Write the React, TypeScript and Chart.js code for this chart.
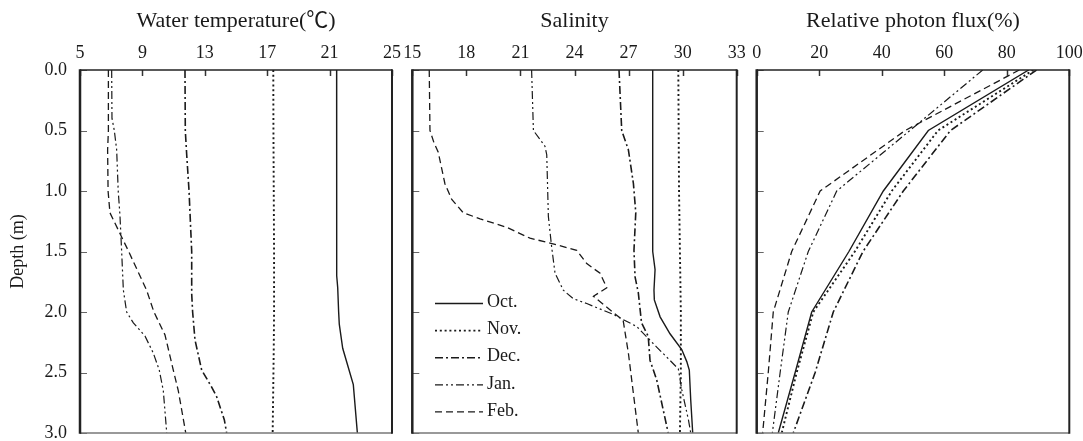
import React, { useEffect, useRef } from "react";
import { Chart, registerables } from "chart.js";

Chart.register(...registerables);

// ---------------- data ----------------
const MONTHS = ["Oct.", "Nov.", "Dec.", "Jan.", "Feb."];

const DEPTH_TICKS = [0, 0.5, 1.0, 1.5, 2.0, 2.5, 3.0];
const TEMP_TICKS = [5, 9, 13, 17, 21, 25];
const SAL_TICKS = [15, 18, 21, 24, 27, 30, 33];
const PHOTON_TICKS = [0, 20, 40, 60, 80, 100];

// Water temperature (°C)
const tempOctDepth = [0, 0.5, 1.0, 1.5, 1.7, 1.8, 2.0, 2.1, 2.3, 2.6, 3.0];
const tempOct = [21.45, 21.45, 21.45, 21.45, 21.47, 21.52, 21.58, 21.62, 21.84, 22.52, 22.78];
const tempNovDepth = [0, 0.5, 1.0, 1.5, 2.0, 2.3, 2.7, 3.0];
const tempNov = [17.39, 17.4, 17.42, 17.44, 17.44, 17.42, 17.38, 17.35];
const tempDecDepth = [0, 0.5, 0.7, 1.0, 1.5, 1.85, 2.0, 2.23, 2.48, 2.62, 2.7, 2.89, 3.0];
const tempDec = [11.73, 11.75, 11.84, 11.99, 12.16, 12.16, 12.22, 12.37, 12.8, 13.44, 13.76, 14.25, 14.4];
const tempJanDepth = [0, 0.4, 0.5, 0.66, 1.0, 1.2, 1.5, 1.82, 2.0, 2.09, 2.2, 2.34, 2.48, 2.65, 3.0];
const tempJan = [7.03, 7.05, 7.2, 7.35, 7.45, 7.56, 7.67, 7.78, 7.99, 8.42, 9.17, 9.7, 10.08, 10.34, 10.56];
const tempFebDepth = [0, 0.5, 0.66, 1.0, 1.18, 1.5, 1.82, 2.0, 2.19, 2.48, 2.65, 3.0];
const tempFeb = [6.82, 6.82, 6.77, 6.8, 6.92, 8.12, 9.27, 9.74, 10.45, 10.98, 11.3, 11.78];

// Salinity
const salOctDepth = [0, 1.5, 1.65, 1.82, 1.9, 2.04, 2.18, 2.31, 2.41, 2.48, 2.73, 3.0];
const salOct = [28.34, 28.34, 28.47, 28.41, 28.43, 28.75, 29.3, 29.95, 30.23, 30.37, 30.45, 30.56];
const salNovDepth = [0, 0.5, 1.0, 1.5, 2.0, 2.5, 3.0];
const salNov = [29.76, 29.78, 29.8, 29.85, 29.9, 29.9, 29.85];
const salDecDepth = [0, 0.5, 0.66, 0.94, 1.18, 1.49, 1.71, 1.84, 2.09, 2.2, 2.4, 2.56, 3.0];
const salDec = [26.47, 26.62, 26.99, 27.27, 27.4, 27.3, 27.36, 27.54, 27.72, 28.09, 28.19, 28.56, 29.2];
const salJanDepth = [0, 0.5, 0.63, 0.7, 1.21, 1.46, 1.68, 1.82, 1.89, 1.93, 2.02, 2.12, 2.29, 2.4, 2.47, 2.64, 2.89, 3.0];
const salJan = [21.62, 21.72, 22.36, 22.46, 22.55, 22.73, 22.92, 23.38, 23.93, 24.68, 26.15, 27.45, 28.56, 29.3, 29.76, 29.95, 30.32, 30.45];
const salFebDepth = [0, 0.5, 0.6, 0.68, 0.94, 1.07, 1.18, 1.23, 1.3, 1.39, 1.43, 1.49, 1.6, 1.68, 1.8, 1.87, 2.07, 2.34, 3.0];
const salFeb = [15.94, 15.98, 16.2, 16.44, 16.81, 17.19, 17.83, 18.76, 20.24, 21.53, 22.64, 24.12, 24.68, 25.42, 25.79, 25.05, 26.7, 26.99, 27.54];

// Relative photon flux (%)
const photonDepth = [0, 0.5, 1.0, 1.5, 2.0, 2.5, 3.0];
const photonOct = [87, 54.9, 40.5, 29.5, 17.6, 12.3, 6.9];
const photonNov = [88.5, 58, 43.2, 31.4, 18.1, 12.8, 8];
const photonDec = [89.5, 62, 46.9, 34, 24.5, 18.7, 11.7];
const photonJan = [72.3, 49, 25.6, 16.5, 10.1, 7.5, 5];
const photonFeb = [84, 47.5, 20.3, 11.2, 5.3, 3.7, 1.9];

// ---------------- styles ----------------
const FONT = "'Liberation Serif', 'Times New Roman', 'Noto Sans CJK SC', serif";
const INK = "#1a1a1a";
const LINE_STYLES = [
  { dash: [] as number[], width: 1.4 },
  { dash: [2, 2.8], width: 1.9 },
  { dash: [8, 3, 2, 3], width: 1.6 },
  { dash: [8, 3, 2, 3, 2, 3], width: 1.2 },
  { dash: [7, 4], width: 1.3 },
];

function makeDatasets(series: { depth: number[]; values: number[] }[]) {
  return series.map((s, i) => ({
    label: MONTHS[i],
    data: s.depth.map((d, k) => ({ x: s.values[k], y: d })),
    borderColor: INK,
    borderWidth: LINE_STYLES[i].width,
    borderDash: LINE_STYLES[i].dash,
    borderCapStyle: "butt" as const,
    pointRadius: 0,
    fill: false,
    tension: 0,
  }));
}

const framePlugin = {
  id: "frame",
  afterDatasetsDraw(chart: any, _args: any, opts: any) {
    const { ctx, chartArea: a, scales } = chart;
    ctx.save();
    ctx.setLineDash([]);
    // inner tick marks
    ctx.strokeStyle = "#333";
    ctx.lineWidth = 1.5;
    for (const v of opts.xTicks as number[]) {
      const px = Math.round(scales.x.getPixelForValue(v)) + 0.5;
      ctx.beginPath();
      ctx.moveTo(px, a.top);
      ctx.lineTo(px, a.top + 6);
      ctx.stroke();
    }
    ctx.strokeStyle = "#666";
    ctx.lineWidth = 1;
    for (const v of DEPTH_TICKS) {
      const py = Math.round(scales.y.getPixelForValue(v)) + 0.5;
      ctx.beginPath();
      ctx.moveTo(a.left, py);
      ctx.lineTo(a.left + 7, py);
      ctx.stroke();
    }
    // frame
    ctx.strokeStyle = "#222";
    ctx.lineWidth = 1.5;
    ctx.beginPath();
    ctx.moveTo(a.left, a.top);
    ctx.lineTo(a.right, a.top);
    ctx.stroke();
    ctx.strokeStyle = "#777";
    ctx.lineWidth = 1.6;
    ctx.beginPath();
    ctx.moveTo(a.left, a.bottom);
    ctx.lineTo(a.right, a.bottom);
    ctx.stroke();
    ctx.strokeStyle = "#222";
    ctx.lineWidth = 2.5;
    ctx.beginPath();
    ctx.moveTo(a.left, a.top - 0.7);
    ctx.lineTo(a.left, a.bottom + 0.8);
    ctx.stroke();
    ctx.lineWidth = 2;
    ctx.beginPath();
    ctx.moveTo(a.right, a.top - 0.7);
    ctx.lineTo(a.right, a.bottom + 0.8);
    ctx.stroke();

    // legend (salinity panel only)
    if (opts.legend) {
      ctx.font = `18px ${FONT}`;
      ctx.textBaseline = "middle";
      ctx.textAlign = "left";
      ctx.fillStyle = INK;
      chart.data.datasets.forEach((ds: any, i: number) => {
        const y = a.top + 233.5 + i * 27.1;
        const x0 = a.left + 22.7;
        ctx.strokeStyle = INK;
        ctx.lineWidth = ds.borderWidth;
        ctx.setLineDash(ds.borderDash);
        ctx.beginPath();
        ctx.moveTo(x0, y);
        ctx.lineTo(x0 + 48, y);
        ctx.stroke();
        ctx.setLineDash([]);
        ctx.fillText(ds.label, x0 + 52, y - 1);
      });
    }
    ctx.restore();
  },
};

type PanelProps = {
  left: number;
  width: number;
  padLeft: number;
  padRight: number;
  title: string;
  min: number;
  max: number;
  ticks: number[];
  series: { depth: number[]; values: number[] }[];
  showDepth: boolean;
  legend: boolean;
};

const HEIGHT = 460;
const AREA_BOTTOM = 433;
const AREA_TOP = 70;

function Panel(p: PanelProps) {
  const ref = useRef<HTMLCanvasElement | null>(null);
  useEffect(() => {
    if (!ref.current) return;
    const chart = new Chart(ref.current, {
      type: "line",
      data: { datasets: makeDatasets(p.series) as any },
      plugins: [framePlugin],
      options: {
        responsive: false,
        animation: false,
        events: [],
        indexAxis: "y",
        layout: {
          padding: { left: p.padLeft, right: p.padRight, top: 0, bottom: HEIGHT - AREA_BOTTOM },
        },
        plugins: {
          legend: { display: false },
          tooltip: { enabled: false },
          frame: { xTicks: p.ticks, legend: p.legend },
        } as any,
        scales: {
          x: {
            type: "linear",
            position: "top",
            min: p.min,
            max: p.max,
            grid: { display: false, drawTicks: false },
            border: { display: false },
            afterBuildTicks: (s: any) => {
              s.ticks = p.ticks.map((v) => ({ value: v }));
            },
            afterFit: (s: any) => {
              s.height = AREA_TOP;
            },
            ticks: {
              autoSkip: false,
              maxRotation: 0,
              padding: 6,
              color: INK,
              font: { family: FONT, size: 18 },
              callback: (v: any) => String(v),
            },
            title: {
              display: true,
              text: p.title,
              color: INK,
              font: { family: FONT, size: 22 },
              padding: { top: 8, bottom: 0 },
            },
          },
          y: {
            type: "linear",
            display: p.showDepth,
            reverse: true,
            min: 0,
            max: 3,
            grid: { display: false, drawTicks: false },
            border: { display: false },
            afterBuildTicks: (s: any) => {
              s.ticks = DEPTH_TICKS.map((v) => ({ value: v }));
            },
            afterFit: (s: any) => {
              if (p.showDepth) s.width = 80;
            },
            ticks: {
              autoSkip: false,
              padding: 13,
              color: INK,
              font: { family: FONT, size: 18 },
              callback: (v: any) => Number(v).toFixed(1),
            },
            title: {
              display: true,
              text: "Depth (m)",
              color: INK,
              font: { family: FONT, size: 18 },
              padding: { top: 7, bottom: 0 },
            },
          },
        },
      } as any,
    });
    return () => chart.destroy();
  }, []);
  return (
    <canvas
      ref={ref}
      width={p.width}
      height={HEIGHT}
      style={{ position: "absolute", left: p.left, top: 0, width: p.width, height: HEIGHT }}
    />
  );
}

export default function App() {
  return (
    <div
      style={{
        position: "fixed",
        left: 0,
        top: 0,
        width: 1083,
        height: 441,
        overflow: "hidden",
        background: "#fff",
      }}
    >
      <Panel
        left={0}
        width={408}
        padLeft={0}
        padRight={16}
        title="Water temperature(℃)"
        min={5}
        max={25}
        ticks={TEMP_TICKS}
        showDepth={true}
        legend={false}
        series={[
          { depth: tempOctDepth, values: tempOct },
          { depth: tempNovDepth, values: tempNov },
          { depth: tempDecDepth, values: tempDec },
          { depth: tempJanDepth, values: tempJan },
          { depth: tempFebDepth, values: tempFeb },
        ]}
      />
      <Panel
        left={396}
        width={357}
        padLeft={16.3}
        padRight={16.3}
        title="Salinity"
        min={15}
        max={33}
        ticks={SAL_TICKS}
        showDepth={false}
        legend={true}
        series={[
          { depth: salOctDepth, values: salOct },
          { depth: salNovDepth, values: salNov },
          { depth: salDecDepth, values: salDec },
          { depth: salJanDepth, values: salJan },
          { depth: salFebDepth, values: salFeb },
        ]}
      />
      <Panel
        left={740}
        width={350}
        padLeft={16.7}
        padRight={20.7}
        title="Relative photon flux(%)"
        min={0}
        max={100}
        ticks={PHOTON_TICKS}
        showDepth={false}
        legend={false}
        series={[
          { depth: photonDepth, values: photonOct },
          { depth: photonDepth, values: photonNov },
          { depth: photonDepth, values: photonDec },
          { depth: photonDepth, values: photonJan },
          { depth: photonDepth, values: photonFeb },
        ]}
      />
    </div>
  );
}
